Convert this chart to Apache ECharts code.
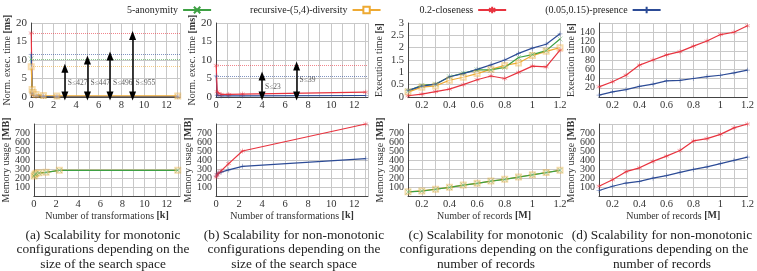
<!DOCTYPE html>
<html>
<head>
<meta charset="utf-8">
<script src="https://cdn.jsdelivr.net/npm/echarts@6/dist/echarts.min.js"></script>
<style>
html, body { margin: 0; padding: 0; background: #fff; }
#chart { width: 757px; height: 271px; }
</style>
</head>
<body>
<div id="chart"></div>
<script>
var names = ['5-anonymity', 'recursive-(5,4)-diversity', '0.2-closeness', '(0.05,0.15)-presence'];
var colors = ['#3da043', '#eeaa33', '#e8333f', '#2c4b96'];

// x values: search space size [k] and number of records [M]
var transformations = [0.02, 0.1, 0.2, 0.45, 1.1, 2.3, 13];
var records = [0.1, 0.2, 0.3, 0.4, 0.5, 0.6, 0.7, 0.8, 0.9, 1.0, 1.1, 1.2];

// (a) monotonic, normalized exec. time [ms]
var aTimeAnon = [10.3, 1.5, 0.7, 0.4, 0.2, 0.1, 0.1];
var aTimeDiv = [8.2, 2.0, 1.2, 0.7, 0.4, 0.3, 0.3];
var aTimeClose = [17.3, 1.2, 0.5, 0.3, 0.2, 0.1, 0.1];
var aTimePres = [11.5, 1.3, 0.6, 0.3, 0.2, 0.1, 0.1];
// (a) memory usage [MB]
var aMemAnon = [220, 240, 250, 255, 262, 285, 285];
var aMemDiv = [222, 242, 252, 257, 263, 286, 286];

// (b) non-monotonic
var bTimeClose = [8.5, 1.4, 0.9, 0.7, 0.7, 0.8, 1.3];
var bTimePres = [5.7, 0.5, 0.35, 0.3, 0.3, 0.3, 0.4];
var bMemClose = [210, 235, 255, 280, 360, 500, 800];
var bMemPres = [220, 245, 255, 265, 290, 330, 415];

// (c) monotonic, execution time [s]
var cTimeAnon = [0.25, 0.47, 0.52, 0.82, 0.97, 1.1, 1.1, 1.2, 1.6, 1.72, 1.88, 2.35];
var cTimeDiv = [0.2, 0.4, 0.45, 0.68, 0.8, 0.95, 1.12, 1.28, 1.38, 1.68, 1.85, 2.0];
var cTimeClose = [0.05, 0.12, 0.22, 0.32, 0.5, 0.7, 0.85, 0.75, 1.0, 1.25, 1.22, 1.9];
var cTimePres = [0.27, 0.44, 0.52, 0.82, 0.95, 1.12, 1.3, 1.5, 1.77, 1.98, 2.14, 2.56];
var cMemAnon = [45, 55, 75, 95, 120, 140, 165, 185, 210, 235, 260, 285];
var cMemDiv = [46, 56, 76, 96, 121, 141, 166, 186, 211, 236, 261, 286];

// (d) non-monotonic
var dTimeClose = [22, 33, 47, 69, 80, 91, 98, 110, 121, 135, 140, 154];
var dTimePres = [4, 11, 16, 23, 28, 35, 36, 40, 44, 47, 52, 58];
var dMemClose = [108, 180, 270, 313, 385, 443, 505, 612, 638, 685, 757, 800];
var dMemPres = [61, 108, 144, 162, 198, 227, 263, 295, 324, 360, 396, 432];

// speedup arrows
var aArrowX = [3, 5, 7, 9];
var aArrowTop = [7.8, 10, 11.1, 16.6];
var aArrowLabelY = [3.9, 3.9, 3.9, 3.9];
var aArrowLabels = ['S≤427', 'S≤447', 'S≤496', 'S≤955'];
var bArrowX = [4, 7];
var bArrowTop = [5.7, 8.4];
var bArrowLabelY = [2.8, 4.5];
var bArrowLabels = ['S≤23', 'S≤39'];

var captions = [
    ['(a) Scalability for monotonic', 'configurations depending on the', 'size of the search space'],
    ['(b) Scalability for non-monotonic', 'configurations depending on the', 'size of the search space'],
    ['(c) Scalability for monotonic', 'configurations depending on the', 'number of records'],
    ['(d) Scalability for non-monotonic', 'configurations depending on the', 'number of records']
];
var captionX = [103, 294, 486, 662];

var serif = 'Liberation Serif';
var symbols = [
    'path://M0,0L10,10M10,0L0,10',
    'emptyRect',
    'path://M5,0L5,10M0,2.5L10,7.5M0,7.5L10,2.5',
    'path://M5,0L5,10M0,5L10,5'
];

function pairs(xs, ys) {
    return xs.map(function (x, i) { return [x, ys[i]]; });
}

function line(k, grid, xs, ys, maxLine) {
    var s = {
        name: names[k],
        type: 'line',
        xAxisIndex: grid,
        yAxisIndex: grid,
        data: pairs(xs, ys),
        symbol: symbols[k],
        symbolSize: 5,
        showSymbol: true,
        lineStyle: { color: colors[k], width: 1.2 },
        itemStyle: { color: colors[k], borderColor: colors[k], borderWidth: 1, opacity: 0.4 },
        emphasis: { disabled: true },
        animation: false
    };
    if (maxLine) {
        s.markLine = {
            silent: true,
            symbol: 'none',
            label: { show: false },
            lineStyle: { color: colors[k], type: 'dotted', width: 1, opacity: 0.6 },
            data: [{ type: 'max' }]
        };
    }
    return s;
}

function arrows(grid, xs, tops, labelYs, labels) {
    return {
        name: 'arrows',
        type: 'scatter',
        xAxisIndex: grid,
        yAxisIndex: grid,
        symbolSize: 0,
        data: pairs(xs, labelYs),
        label: {
            show: true,
            position: 'right',
            distance: 3,
            formatter: function (p) { return labels[p.dataIndex]; },
            fontFamily: serif,
            fontSize: 7.5,
            color: '#333'
        },
        markLine: {
            silent: true,
            symbol: ['triangle', 'triangle'],
            symbolSize: [7, 9],
            label: { show: false },
            lineStyle: { color: '#000', width: 1.5, type: 'solid', opacity: 1 },
            data: xs.map(function (x, i) { return [{ coord: [x, 0.3] }, { coord: [x, tops[i]] }]; })
        },
        animation: false
    };
}

var lefts = [31, 216, 408, 599];
var widths = [149, 152, 152, 152];
var grids = [];
for (var r = 0; r < 2; r++) {
    for (var c = 0; c < 4; c++) {
        grids.push({ left: lefts[c], width: widths[c], top: r === 0 ? 23 : 124, height: r === 0 ? 74 : 72 });
    }
}

var gridLine = { show: true, lineStyle: { color: '#c8c8c8', width: 1 } };
var axisLine = { show: true, lineStyle: { color: '#444', width: 1 } };
var nameStyle = { fontFamily: serif, fontSize: 10, color: '#333', rich: { b: { fontFamily: serif, fontSize: 10, fontWeight: 'bold', color: '#333' } } };

function xAxis(grid, kind, named) {
    var a = {
        type: 'value',
        gridIndex: grid,
        axisLine: axisLine,
        axisTick: { show: false },
        splitLine: gridLine,
        axisLabel: { margin: 3, fontFamily: serif, fontSize: 10.5, color: '#333' }
    };
    if (kind === 'k') {
        a.min = 0; a.max = 13.2; a.interval = 1;
        a.axisLabel.formatter = function (v) { return (v % 2 === 0 && v <= 12) ? String(v) : ''; };
        if (named) a.name = 'Number of transformations {b|[k]}';
    } else {
        a.min = 0.1; a.max = 1.2; a.interval = 0.1;
        a.axisLabel.formatter = function (v) { var k = Math.round(v * 10); return k % 2 === 0 ? String(k / 10) : ''; };
        if (named) a.name = 'Number of records {b|[M]}';
    }
    if (named) {
        a.nameLocation = 'middle';
        a.nameGap = 12;
        a.nameTextStyle = nameStyle;
    }
    return a;
}

function yAxis(grid, max, interval, name, gap, fontSize) {
    return {
        type: 'value',
        gridIndex: grid,
        min: 0, max: max, interval: interval,
        axisLine: axisLine,
        axisTick: { show: false },
        splitLine: gridLine,
        axisLabel: { margin: 4, fontFamily: serif, fontSize: fontSize, color: '#333' },
        name: name,
        nameLocation: 'middle',
        nameGap: gap,
        nameTextStyle: nameStyle
    };
}

var series = [
    line(2, 0, transformations, aTimeClose, true),
    line(0, 0, transformations, aTimeAnon, true),
    line(3, 0, transformations, aTimePres, true),
    line(1, 0, transformations, aTimeDiv, true),
    arrows(0, aArrowX, aArrowTop, aArrowLabelY, aArrowLabels),

    line(3, 1, transformations, bTimePres, true),
    line(2, 1, transformations, bTimeClose, true),
    arrows(1, bArrowX, bArrowTop, bArrowLabelY, bArrowLabels),

    line(1, 2, records, cTimeDiv),
    line(2, 2, records, cTimeClose),
    line(0, 2, records, cTimeAnon),
    line(3, 2, records, cTimePres),

    line(3, 3, records, dTimePres),
    line(2, 3, records, dTimeClose),

    line(1, 4, transformations, aMemDiv),
    line(0, 4, transformations, aMemAnon),

    line(3, 5, transformations, bMemPres),
    line(2, 5, transformations, bMemClose),

    line(1, 6, records, cMemDiv),
    line(0, 6, records, cMemAnon),

    line(3, 7, records, dMemPres),
    line(2, 7, records, dMemClose)
];

var chart = echarts.init(document.getElementById('chart'));

chart.setOption({
    animation: false,
    backgroundColor: '#fff',
    legend: {
        data: names,
        top: 0,
        left: 122,
        itemGap: 38,
        align: 'right',
        itemWidth: 28,
        itemHeight: 8,
        selectedMode: false,
        textStyle: { fontFamily: serif, fontSize: 10, color: '#222' },
        itemStyle: { opacity: 1 }
    },
    grid: grids,
    xAxis: [
        xAxis(0, 'k', false), xAxis(1, 'k', false), xAxis(2, 'M', false), xAxis(3, 'M', false),
        xAxis(4, 'k', true), xAxis(5, 'k', true), xAxis(6, 'M', true), xAxis(7, 'M', true)
    ],
    yAxis: [
        yAxis(0, 20, 5, 'Norm. exec. time {b|[ms]}', 17, 11),
        yAxis(1, 20, 5, 'Norm. exec. time {b|[ms]}', 18, 11),
        yAxis(2, 3, 0.5, 'Execution time {b|[s]}', 24, 10.5),
        yAxis(3, 160, 20, 'Execution time {b|[s]}', 23, 10),
        yAxis(4, 800, 100, 'Memory usage {b|[MB]}', 18, 10),
        yAxis(5, 800, 100, 'Memory usage {b|[MB]}', 19, 10),
        yAxis(6, 800, 100, 'Memory usage {b|[MB]}', 23, 10),
        yAxis(7, 800, 100, 'Memory usage {b|[MB]}', 23, 10)
    ],
    series: series,
    graphic: captions.map(function (lines, i) {
        return {
            type: 'text',
            x: captionX[i],
            y: 228,
            silent: true,
            style: {
                text: lines.join('\n'),
                textAlign: 'center',
                textVerticalAlign: 'top',
                fontFamily: serif,
                fontSize: 13.4,
                fill: '#222',
                lineHeight: 14.5
            }
        };
    })
});
</script>
</body>
</html>
